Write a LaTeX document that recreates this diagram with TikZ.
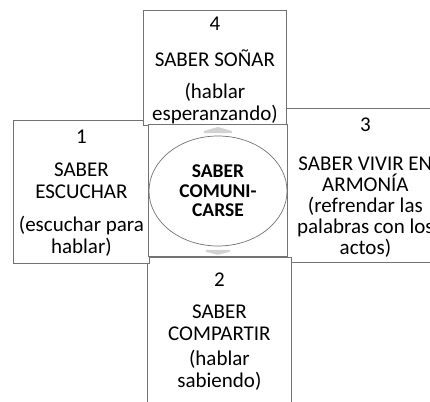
\documentclass[tikz,border=0pt]{standalone}
\usepackage{fontspec}
\setmainfont{Carlito}
\usetikzlibrary{shapes,positioning,calc}
\definecolor{borde}{gray}{0.45}
\tikzset{caja/.style={
            draw=borde,
            fill=white,
            line width=0.8pt,
            inner sep=0pt,
            anchor=north west
        },
        texto/.style={
            align=center,
            inner sep=0pt,
            anchor=north,
            font=\fontsize{21}{22}\selectfont
        },
        ovalo/.style={
            draw=borde,
            fill=white,
            ellipse,
            line width=0.7pt,
            inner sep=0pt,
            minimum width=138pt,
            minimum height=110pt,
            align=center,
            font=\bfseries\fontsize{19.5}{19.5}\selectfont
        },
        flecha/.style={
            fill=gray!35,
            draw=none
        }
    }

\begin{document}
\begin{tikzpicture}[x=1pt,y=-1pt]
        \useasboundingbox (0,0) rectangle (430,401);
        \clip (0,0) rectangle (430,401);
        \node[caja,minimum width=158pt,minimum height=154pt] (tres) at (286,108) {};
        \node[caja,minimum width=144pt,minimum height=170pt] (dos) at (147,257) {};
        \node[caja,minimum width=136pt,minimum height=143pt] (uno) at (13,120) {};
        \node[caja,minimum width=143pt,minimum height=115pt] (cuatro) at (143,10) {};
        \node[caja,minimum width=139pt,minimum height=132pt] (nucleo) at (148,124) {};
        \fill[flecha] ($(nucleo.north)+(-14,9)$) -- ++(0,-2) -- ++(14,-4) -- ++(14,4) -- ++(0,2) -- cycle;
        \fill[flecha] ($(nucleo.south)+(-12,-7)$) -- ++(0,2) -- ++(12,3) -- ++(12,-3) -- ++(0,-2) -- cycle;
        \node[ovalo] (elipse) at (218,191) {SABER\\COMUNI-\\CARSE};
        \node[texto] (t1) at ($(uno.north)+(0,10)$) {1\\[11pt]SABER\\ESCUCHAR\\[11pt](escuchar para\\hablar)};
        \node[texto] (t4) at ($(cuatro.north)+(0,7)$) {4\\[14pt]SABER SOÑAR\\[10pt](hablar\\esperanzando)};
        \node[texto,font=\fontsize{21}{21}\selectfont] (t3) at ($(tres.north)+(0,10)$) {3\\[18pt]SABER VIVIR EN\\ARMONÍA\\(refrendar las\\palabras con los\\actos)};
        \node[texto] (t2) at ($(dos.north)+(0,16)$) {2\\[10pt]SABER\\COMPARTIR\\[3pt](hablar\\sabiendo)};
    \end{tikzpicture}
\end{document}
